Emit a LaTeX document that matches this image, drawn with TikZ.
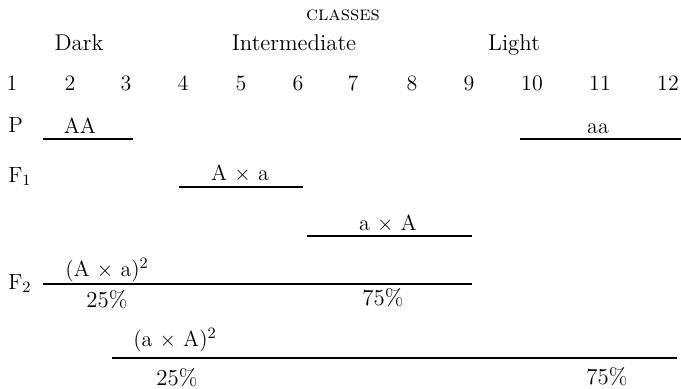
\documentclass[tikz,border=0pt]{standalone}
\usepackage{tikz}
\usepackage{amsmath}

\tikzset{
    bar/.style={black, line width=0.9pt},
    txt/.style={anchor=base, inner sep=0pt},
    cls/.style={txt, font=\fontsize{13}{15}\selectfont},
    num/.style={txt, font=\fontsize{12.5}{14}\selectfont},
    row/.style={anchor=base west, inner sep=0pt, font=\fontsize{12.5}{14}\selectfont},
    gen/.style={txt, font=\fontsize{12.5}{14}\selectfont},
    pct/.style={txt, font=\fontsize{13}{15}\selectfont}
}

\begin{document}
\begin{tikzpicture}[x=0.02cm, y=-0.02cm]

        \useasboundingbox (0,0) rectangle (681,389);

        % heading

        \node[txt, font=\fontsize{11.5}{13}\selectfont] (classes) at (343,20) {\textsc{classes}};

        \node[cls] (dark) at (79,50) {Dark};
        \node[cls] (inter) at (294,50) {Intermediate};
        \node[cls] (light) at (514,50) {Light};

        \foreach \n/\x in {1/12,2/70,3/126,4/183,5/241,6/298,7/353,8/412,9/469,10/532,11/600,12/668}
            \node[num] (c\n) at (\x,90) {\n};

        % P

        \node[row] (P) at (8,132) {P};

        \coordinate (AAl) at (43,139); % left
        \coordinate (AAr) at (133,139); % right
        \draw[bar] (AAl) -- (AAr);
        \node[gen] (AA) at (80,133) {AA};

        \coordinate (aal) at (520,139);
        \coordinate (aar) at (681,139);
        \draw[bar] (aal) -- (aar);
        \node[gen] (aa) at (598,133) {aa};

        % F1

        \node[row] (F1) at (8,182) {F$_1$};

        \coordinate (Axal) at (179,187);
        \coordinate (Axar) at (303,187);
        \draw[bar] (Axal) -- (Axar);
        \node[gen] (Axa) at (240,180) {A $\times$ a};

        \coordinate (aXAl) at (307,236);
        \coordinate (aXAr) at (472,236);
        \draw[bar] (aXAl) -- (aXAr);
        \node[gen] (aXA) at (388,230) {a $\times$ A};

        % F2

        \node[row] (F2) at (8,289) {F$_2$};

        \coordinate (sqAl) at (43,284);
        \coordinate (sqAr) at (472,284);
        \draw[bar] (sqAl) -- (sqAr);
        \node[gen] (sqA) at (107,276) {(A $\times$ a)$^2$};
        \node[pct] (sqAlo) at (107,307) {25\%};
        \node[pct] (sqAhi) at (383,305) {75\%};

        \coordinate (sqal) at (112,358);
        \coordinate (sqar) at (677,358);
        \draw[bar] (sqal) -- (sqar);
        \node[gen] (sqa) at (175,346) {(a $\times$ A)$^2$};
        \node[pct] (sqalo) at (177,385) {25\%};
        \node[pct] (sqahi) at (607,384) {75\%};

    \end{tikzpicture}
\end{document}
